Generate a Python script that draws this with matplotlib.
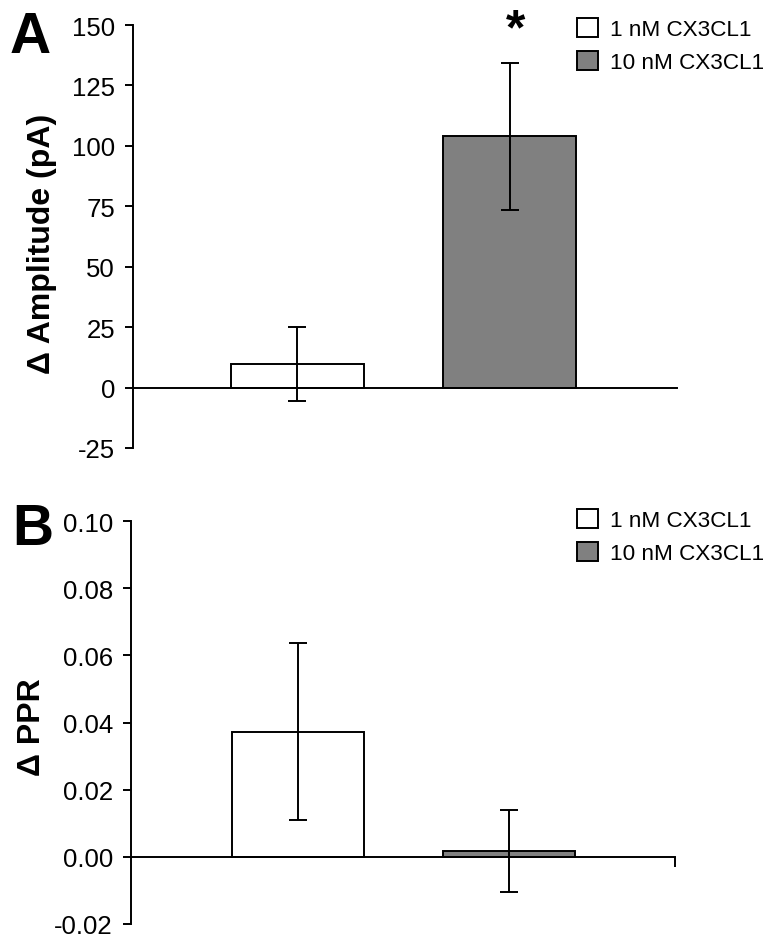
import numpy as np
import matplotlib.pyplot as plt
from matplotlib.patches import Patch

plt.rcParams['font.family'] = ['Liberation Sans', 'DejaVu Sans']
plt.rcParams['axes.unicode_minus'] = False

# Data
conc = ['1 nM CX3CL1', '10 nM CX3CL1']
colors = ['white', '#808080']
amp_mean = [9.8, 103.9]
amp_sem = [15.3, 30.3]
ppr_mean = [0.0373, 0.0018]
ppr_sem = [0.0263, 0.0122]

amp_ticks = [-25, 0, 25, 50, 75, 100, 125, 150]
ppr_ticks = [-0.02, 0.00, 0.02, 0.04, 0.06, 0.08, 0.10]

x = np.array([1, 2])
W, H = 776, 945
fig = plt.figure(figsize=(W / 100, H / 100), dpi=100)

axA = fig.add_axes([133 / W, 1 - 449 / H, 544 / W, 423 / H])
axB = fig.add_axes([131 / W, 1 - 925 / H, 544 / W, 403 / H])

lw = 1.4
tick_fs = 18.5


def draw(ax, mean, sem, ticks, xlim, fmt):
    ax.bar(x, mean, width=0.626, color=colors, edgecolor='black', linewidth=lw, zorder=2)
    ax.errorbar(x, mean, yerr=sem, fmt='none', ecolor='black', elinewidth=lw,
                capsize=6.7, capthick=lw, zorder=3)
    ax.set_xlim(*xlim)
    ax.set_ylim(ticks[0], ticks[-1])
    ax.set_yticks(ticks)
    ax.set_yticklabels([fmt.format(t) for t in ticks], fontsize=tick_fs)
    for s in ['top', 'right']:
        ax.spines[s].set_visible(False)
    ax.spines['bottom'].set_position(('data', 0))
    ax.spines['left'].set_linewidth(lw)
    ax.spines['bottom'].set_linewidth(lw)
    ax.tick_params(axis='y', direction='out', length=6, width=lw, pad=7)
    handles = [Patch(facecolor=c, edgecolor='black', linewidth=lw) for c in colors]
    return handles


hA = draw(axA, amp_mean, amp_sem, amp_ticks, (0.226, 2.786), '{:d}')
axA.set_xticks([])
hB = draw(axB, ppr_mean, ppr_sem, ppr_ticks, (0.211, 2.786), '{:.2f}')
axB.set_xticks([2.786])
axB.set_xticklabels([''])
axB.tick_params(axis='x', direction='out', length=7, width=lw)

axA.set_ylabel('\u0394 Amplitude (pA)', fontsize=23, fontweight='bold')
axA.yaxis.set_label_coords(-0.140, 0.485)
axB.set_ylabel('\u0394 PPR', fontsize=23, fontweight='bold')
axB.yaxis.set_label_coords(-0.155, 0.49)

# significance marker
axA.annotate('*', xy=(x[1], amp_mean[1] + amp_sem[1]), xytext=(4, 24),
             textcoords='offset points', ha='center', va='center',
             fontsize=36, fontweight='bold')

for ax, h, top in [(axA, hA, 19), (axB, hB, 510)]:
    fig.legend(h, conc, loc='upper left', bbox_to_anchor=(577 / W, 1 - top / H),
               frameon=False, fontsize=16.2, handlelength=0.95, handleheight=0.95,
               handletextpad=0.5, labelspacing=0.45, borderpad=0, borderaxespad=0)

fig.text(10 / W, 1 - 53 / H, 'A', fontsize=41, fontweight='bold', va='baseline')
fig.text(12 / W, 1 - 545 / H, 'B', fontsize=41, fontweight='bold', va='baseline')

fig.savefig('out.png', dpi=100)
